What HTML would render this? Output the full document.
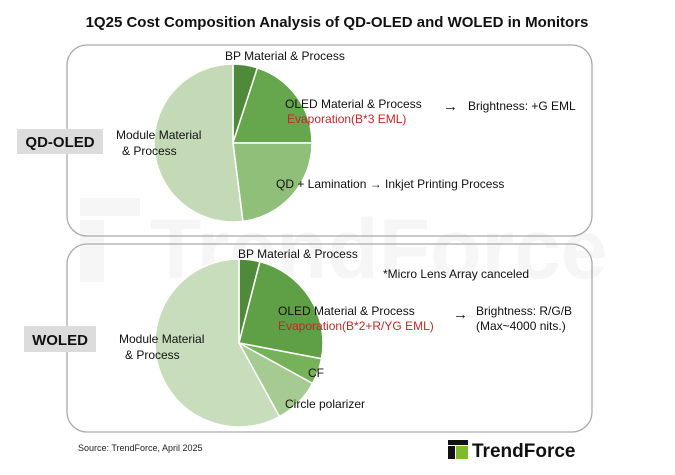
<!DOCTYPE html>
<html><head><meta charset="utf-8"><style>
body{margin:0;background:#fff;width:675px;height:470px;overflow:hidden;font-family:"Liberation Sans",sans-serif}
svg text{font-family:"Liberation Sans",sans-serif}
</style></head><body>
<svg id="c" width="675" height="470" viewBox="0 0 675 470">
<text x="337" y="27" text-anchor="middle" font-size="15" font-weight="bold" fill="#111">1Q25 Cost Composition Analysis of QD-OLED and WOLED in Monitors</text>
<text x="150" y="278" font-size="84" font-weight="bold" fill="#f6f6f6">TrendForce</text>
<rect x="80" y="198" width="60" height="18" fill="#f6f6f6"/>
<rect x="80" y="220" width="24" height="62" fill="#f6f6f6"/>
<rect x="67" y="45" width="525" height="191" rx="20" fill="none" stroke="#aaa" stroke-width="1.3"/>
<rect x="67" y="244" width="525" height="188" rx="20" fill="none" stroke="#aaa" stroke-width="1.3"/>
<rect x="17" y="129" width="86" height="25" fill="#dcdcdc"/>
<text x="60" y="147" text-anchor="middle" font-size="15" font-weight="bold" fill="#111">QD-OLED</text>
<rect x="24" y="326" width="72" height="26" fill="#dcdcdc"/>
<text x="60" y="345" text-anchor="middle" font-size="15" font-weight="bold" fill="#111">WOLED</text>
<g id="p1"></g><g id="p2"></g>
<g font-size="12" fill="#111">
<text x="225" y="60">BP Material &amp; Process</text>
<text x="285" y="108">OLED Material &amp; Process</text>
<text x="287" y="123" fill="#c0282a">Evaporation(B*3 EML)</text>
<text x="443" y="111" font-size="15" font-weight="bold">→</text>
<text x="468" y="110">Brightness: +G EML</text>
<text x="116" y="139">Module Material</text>
<text x="122" y="155">&amp; Process</text>
<text x="276" y="188">QD + Lamination → Inkjet Printing Process</text>
<text x="238" y="258">BP Material &amp; Process</text>
<text x="383" y="278">*Micro Lens Array canceled</text>
<text x="278" y="315">OLED Material &amp; Process</text>
<text x="278" y="330" fill="#c0282a">Evaporation(B*2+R/YG EML)</text>
<text x="453" y="319" font-size="15" font-weight="bold">→</text>
<text x="476" y="315">Brightness: R/G/B</text>
<text x="476" y="330">(Max~4000 nits.)</text>
<text x="119" y="343">Module Material</text>
<text x="125" y="359">&amp; Process</text>
<text x="308" y="377">CF</text>
<text x="285" y="408">Circle polarizer</text>
</g>
<text x="78" y="451" font-size="9" fill="#222">Source: TrendForce, April 2025</text>
<g>
<rect x="448" y="440" width="20" height="5" fill="#111"/><rect x="448" y="446" width="7" height="13" fill="#111"/>
<rect x="456" y="446" width="12" height="13" fill="#7dbb2c"/>
<text x="472" y="457" font-size="19" font-weight="bold" fill="#111">TrendForce</text>
</g>
</svg>
<script>
const qdCategories=["BP Material & Process","OLED Material & Process","QD + Lamination","Module Material & Process"];
const qdValues=[5,20,23,52];
const woCategories=["BP Material & Process","OLED Material & Process","CF","Circle polarizer","Module Material & Process"];
const woValues=[4,24,5,9,58];
function pie(gid,vals,cats,cx,cy,r,colors,prefix){
  const g=document.getElementById(gid);
  const tot=vals.reduce((a,b)=>a+b,0);let a0=0;
  vals.forEach((v,i)=>{
    const a1=a0+v/tot*2*Math.PI;
    const x0=cx+r*Math.sin(a0),y0=cy-r*Math.cos(a0),x1=cx+r*Math.sin(a1),y1=cy-r*Math.cos(a1);
    const p=document.createElementNS("http://www.w3.org/2000/svg","path");
    p.setAttribute("d",`M${cx},${cy}L${x0},${y0}A${r},${r} 0 ${a1-a0>Math.PI?1:0} 1 ${x1},${y1}Z`);
    p.setAttribute("fill",colors[i]);p.setAttribute("stroke","#fff");p.setAttribute("stroke-width","1.5");
    
    
    g.appendChild(p);a0=a1;
  });
}
pie("p1",qdValues,qdCategories,233,143,79,["#4f8a3b","#66a64c","#8fbf78","#c4dab6"],"qd");
pie("p2",woValues,woCategories,239,343,84,["#4f8a3b","#5f9f45","#75b258","#a5ca92","#c8ddbb"],"wo");
</script>
</body></html>
